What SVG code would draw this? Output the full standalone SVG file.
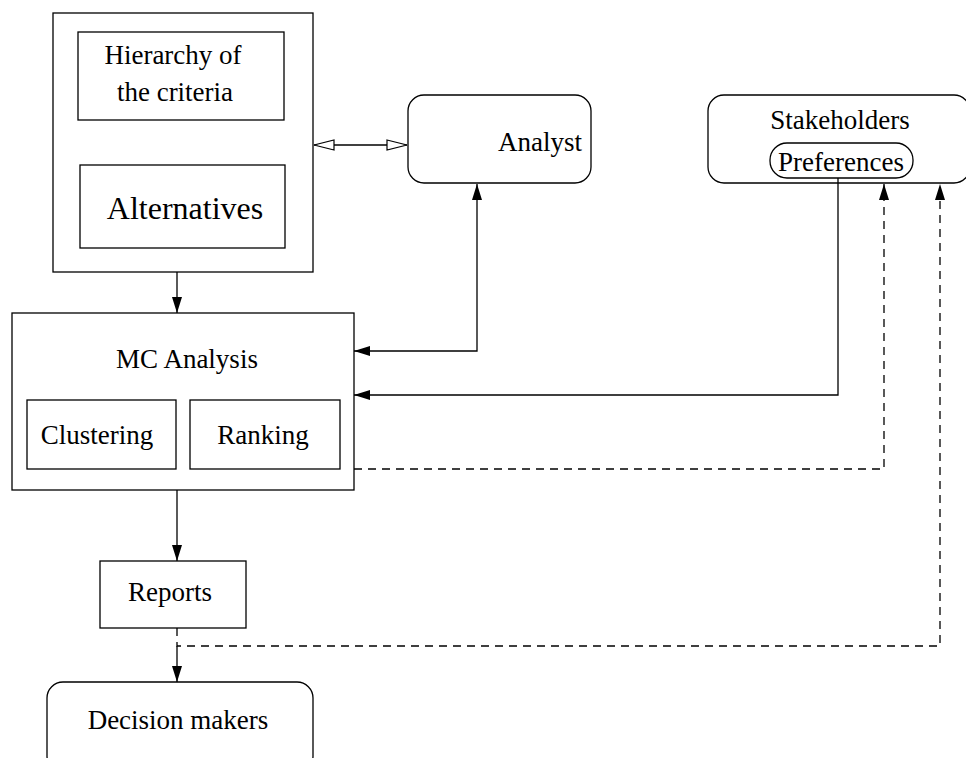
<svg xmlns="http://www.w3.org/2000/svg" width="966" height="758" viewBox="0 0 966 758">
<style>
.b{fill:#fff;stroke:#000;stroke-width:1.3}
.t{font-family:"Liberation Serif",serif;font-size:27px;fill:#000;text-anchor:middle}
.c{fill:none;stroke:#000;stroke-width:1.3}
.d{fill:none;stroke:#000;stroke-width:1.3;stroke-dasharray:8,6}
</style>
<defs>
<marker id="a" viewBox="0 0 16 10" refX="16" refY="5" markerWidth="16" markerHeight="10" markerUnits="userSpaceOnUse" orient="auto-start-reverse"><path d="M0,0 L16,5 L0,10 z" fill="#000"/></marker>
<marker id="h" viewBox="0 0 22 12" refX="21" refY="6" markerWidth="22" markerHeight="12" markerUnits="userSpaceOnUse" orient="auto-start-reverse"><path d="M1,1 L21,6 L1,11 z" fill="#fff" stroke="#000" stroke-width="1.2"/></marker>
</defs>
<g id="inputs">
<rect class="b" x="53" y="13" width="260" height="259"/>
<rect class="b" x="78" y="32" width="206" height="88"/>
<text class="t" x="173" y="64">Hierarchy of</text>
<text class="t" x="175" y="101">the criteria</text>
<rect class="b" x="80" y="165" width="205" height="83"/>
<text class="t" x="185" y="219" style="font-size:32px">Alternatives</text>
</g>
<g id="analyst">
<rect class="b" x="408" y="95" width="183" height="88" rx="16"/>
<text class="t" x="540" y="151">Analyst</text>
</g>
<g id="stakeholders">
<rect class="b" x="708" y="95" width="262" height="88" rx="16"/>
<text class="t" x="840" y="129">Stakeholders</text>
<rect class="b" x="770" y="143" width="143" height="35" rx="17"/>
<text class="t" x="841" y="171">Preferences</text>
</g>
<g id="mc">
<rect class="b" x="12" y="313" width="342" height="177"/>
<text class="t" x="187" y="368">MC Analysis</text>
<rect class="b" x="27" y="400" width="149" height="69"/>
<text class="t" x="97" y="444">Clustering</text>
<rect class="b" x="190" y="400" width="150" height="69"/>
<text class="t" x="263" y="444">Ranking</text>
</g>
<g id="reports">
<rect class="b" x="100" y="561" width="146" height="67"/>
<text class="t" x="170" y="601">Reports</text>
</g>
<g id="decision">
<rect class="b" x="47" y="682" width="266" height="90" rx="16"/>
<text class="t" x="178" y="729">Decision makers</text>
</g>
<g id="connectors">
<line class="c" x1="314" y1="145" x2="407" y2="145" marker-start="url(#h)" marker-end="url(#h)"/>
<line class="c" x1="177" y1="272" x2="177" y2="313" marker-end="url(#a)"/>
<polyline class="c" points="477,184 477,351 354,351" marker-start="url(#a)" marker-end="url(#a)"/>
<polyline class="c" points="838,178 838,395 354,395" marker-end="url(#a)"/>
<polyline class="d" points="354,469 884,469 884,184" marker-end="url(#a)"/>
<line class="c" x1="177" y1="490" x2="177" y2="561" marker-end="url(#a)"/>
<polyline class="d" points="177,628 177,646 940,646 940,184" marker-end="url(#a)"/>
<line class="c" x1="177" y1="646" x2="177" y2="682" marker-end="url(#a)"/>
</g>
</svg>
